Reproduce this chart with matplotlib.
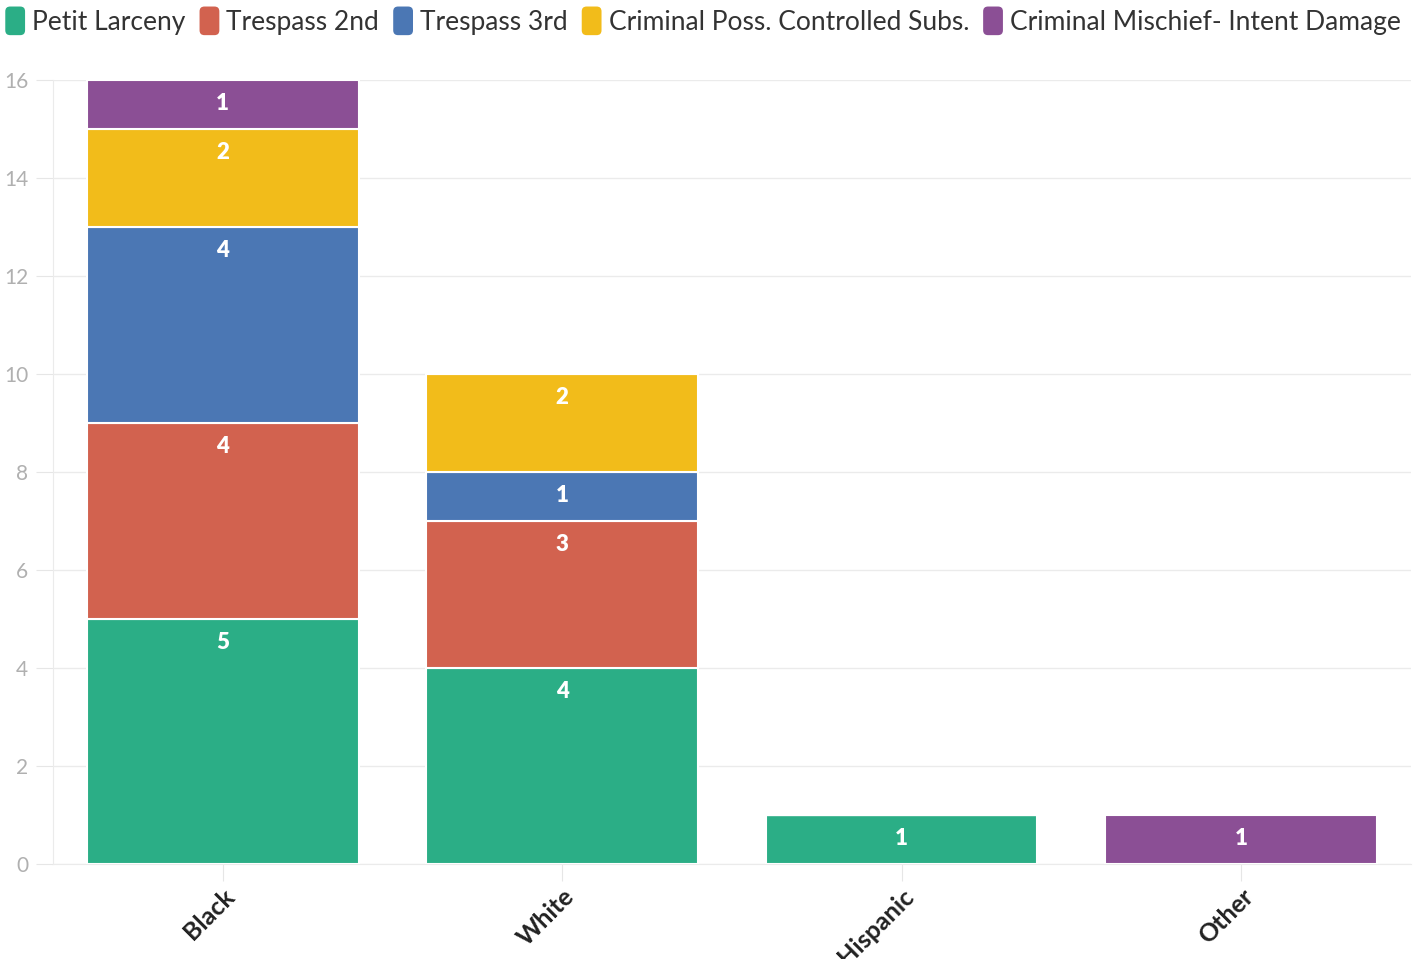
import matplotlib
matplotlib.use("Agg")
import matplotlib.pyplot as plt
from matplotlib.patches import FancyBboxPatch, Patch
from matplotlib.legend_handler import HandlerPatch
import numpy as np

categories = ["Black", "White", "Hispanic", "Other"]
series_names = ["Petit Larceny", "Trespass 2nd", "Trespass 3rd",
                "Criminal Poss. Controlled Subs.", "Criminal Mischief- Intent Damage"]
petit_larceny = [5, 4, 1, 0]
trespass_2nd = [4, 3, 0, 0]
trespass_3rd = [4, 1, 0, 0]
criminal_poss = [2, 2, 0, 0]
criminal_mischief = [1, 0, 0, 1]
series_values = [petit_larceny, trespass_2nd, trespass_3rd, criminal_poss, criminal_mischief]
colors = ["#2bae86", "#d2624f", "#4b77b4", "#f2bc1a", "#8b4f95"]
y_ticks = [0, 2, 4, 6, 8, 10, 12, 14, 16]

plt.rcParams['font.family'] = ['Lato', 'DejaVu Sans']

fig = plt.figure(figsize=(14.18, 9.59), dpi=100)
ax = fig.add_axes([0.0374, 0.0991, 0.9576, 0.8175])

x = np.arange(len(categories))
bottom = np.zeros(len(categories))
for name, vals, col in zip(series_names, series_values, colors):
    vals = np.array(vals, dtype=float)
    ax.bar(x, vals, width=0.8, bottom=bottom, color=col, edgecolor="white",
           linewidth=1.5, zorder=3)
    for xi, v, b in zip(x, vals, bottom):
        if v > 0:
            ax.annotate(f"{int(v)}", xy=(xi, b + v), xytext=(0, -24),
                        textcoords="offset pixels",
                        ha="center", va="center", color="white",
                        fontsize=16, fontweight="heavy", zorder=4)
    bottom += vals

ax.set_xlim(-0.5, 3.5)
ax.set_ylim(0, 16)
ax.set_yticks(y_ticks)
ax.set_yticklabels([str(t) for t in y_ticks])
ax.set_xticks(x)
ax.set_xticklabels(categories, rotation=45, ha="right", rotation_mode="anchor",
                   fontsize=18, fontweight="bold", color="#222222")
ax.tick_params(axis="x", length=12, color="#e6e6e6", pad=3)
ax.tick_params(axis="y", length=12, color="#e6e6e6", labelcolor="#b0b0b0",
               labelsize=15, pad=6)
ax.grid(axis="y", color="#ebebeb", linewidth=1, zorder=0)
for s in ["top", "right"]:
    ax.spines[s].set_visible(False)
ax.spines["left"].set_color("#ebebeb")
ax.spines["bottom"].set_color("#ebebeb")


class RoundHandler(HandlerPatch):
    def create_artists(self, legend, orig_handle, xdescent, ydescent, width,
                       height, fontsize, trans):
        w = width
        h = height * 1.55
        x0 = -xdescent
        y0 = -ydescent + (height - h) / 2
        p = FancyBboxPatch((x0, y0), w, h,
                           boxstyle="round,pad=0,rounding_size=3.5",
                           facecolor=orig_handle.get_facecolor(),
                           edgecolor="none", transform=trans)
        return [p]


handles = [Patch(facecolor=c) for c in colors]
fig.legend(handles, series_names, loc="upper left", bbox_to_anchor=(0.0, 0.995),
           ncol=5, frameon=False, fontsize=19, handletextpad=0.27,
           columnspacing=0.53, handlelength=0.75, labelcolor="#333333",
           borderaxespad=0.0, borderpad=0.2,
           handler_map={Patch: RoundHandler()})

fig.savefig("out.png", dpi=100)
